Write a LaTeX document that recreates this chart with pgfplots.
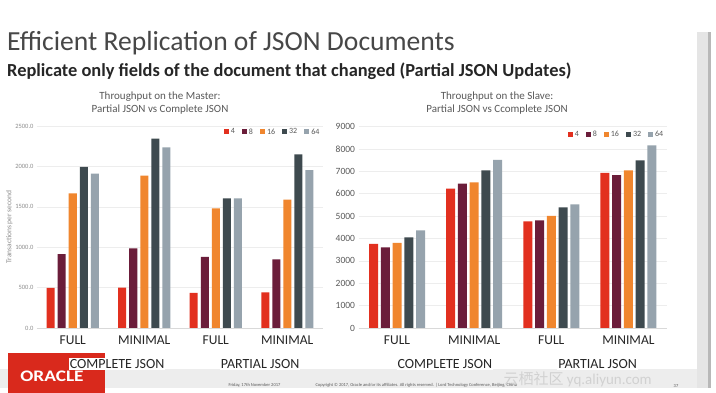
\documentclass[border=0pt]{standalone}
\usepackage{pgfplots}
\pgfplotsset{compat=1.18}
\usepackage{fontspec}
\setmainfont{Carlito}
\newfontfamily\cjk{Noto Sans CJK SC}
\definecolor{cA}{HTML}{E2301F}
\definecolor{cB}{HTML}{6B1D3A}
\definecolor{cC}{HTML}{F0862E}
\definecolor{cD}{HTML}{3E4A4F}
\definecolor{cE}{HTML}{96A3AD}
\definecolor{txt}{HTML}{595959}
\definecolor{oracle}{HTML}{D9291C}
\tikzset{grp/.style={fill=white,inner sep=1pt,font=\fontsize{14}{14}\selectfont,text=black!85,yshift=-36pt}}
\begin{document}
\begin{tikzpicture}[x=1pt,y=1pt]
% canvas
\fill[white] (0pt,0pt) rectangle (716pt,393pt);
% footer band and right strip
\fill[black!7] (0pt,5pt) rectangle (697pt,24pt);
\fill[black!10] (697pt,5pt) rectangle (708pt,361pt);
\fill[black!28] (708pt,5pt) rectangle (711pt,361pt);
\fill[oracle] (8pt,0pt) rectangle (105pt,40pt);
\node[white,font=\fontsize{14}{14}\selectfont\bfseries,scale=1.15,xscale=1.2] at (52pt,17pt) {ORACLE};
\node[txt,font=\fontsize{4.5}{5}\selectfont,anchor=west] at (225pt,8pt) {Friday, 17th November 2017};
\node[txt,font=\fontsize{4.5}{5}\selectfont,anchor=west] at (312pt,8pt) {Copyright \textcopyright{} 2017, Oracle and/or its affiliates. All rights reserved. \textbar{} Lord Technology Conference, Beijing, China};
\node[txt,font=\fontsize{4.5}{5}\selectfont] at (676pt,7pt) {37};
% titles
\node[anchor=base west,text=black!72,font=\fontsize{27.6}{28}\selectfont,inner sep=0] at (7pt,342pt) {Efficient Replication of JSON Documents};
\node[anchor=base west,text=black!85,font=\fontsize{18.4}{18.4}\selectfont\bfseries,inner sep=0] at (7pt,316pt) {Replicate only fields of the document that changed (Partial JSON Updates)};
\node[txt,font=\fontsize{11}{13}\selectfont,align=center] at (160pt,290pt) {Throughput on the Master:\\Partial JSON vs Complete JSON};
\node[txt,font=\fontsize{11}{13}\selectfont,align=center] at (497pt,290pt) {Throughput on the Slave:\\Partial JSON vs Ccomplete JSON};

\pgfplotsset{
  common/.style={
    scale only axis, clip=false,
    xmin=-0.5, xmax=3.5, ymin=0,
    /pgf/number format/assume math mode=true,
    xtick={0,1,2,3}, xticklabels={FULL,MINIMAL,FULL,MINIMAL},
    x tick label style={font=\fontsize{13.5}{13.5}\selectfont, text=black!85, yshift=-4pt},
    major tick length=0pt,
    axis x line*=bottom, x axis line style={black!15},
    axis y line*=left, y axis line style={draw=none},
    ymajorgrids, grid style={black!7},
    y tick label style={text=txt},
    legend columns=5,
    legend style={draw=none, fill=none, font=\fontsize{8}{8}\selectfont, text=txt, inner sep=0pt,
      /tikz/every even column/.append style={column sep=5pt}},
    legend cell align=left,
  },
  sq/.style={legend image code/.code={\fill[##1,draw=none] (0pt,-2.4pt) rectangle (5pt,2.6pt);}},
}

\begin{axis}[common, ybar=3pt, bar width=8pt, sq, at={(37pt,65pt)}, anchor=south west, width=286pt, height=202pt,
  ymax=2500, ytick={0,500,1000,1500,2000,2500},
  yticklabel={\pgfmathprintnumber[fixed,fixed zerofill,precision=1,1000 sep={},assume math mode=true]{\tick}},
  y tick label style={font=\fontsize{6.5}{6.5}\selectfont, text=black!45},
  ylabel={Transactions per second}, ylabel style={font=\fontsize{7.5}{7.5}\selectfont, text=black!45, yshift=-4pt},
  legend style={at={(rel axis cs:0.995,0.97)}, anchor=east},
]
\addplot[fill=cA, draw=none] coordinates {(0,495) (1,500) (2,435) (3,440)};
\addplot[fill=cB, draw=none] coordinates {(0,915) (1,985) (2,880) (3,850)};
\addplot[fill=cC, draw=none] coordinates {(0,1665) (1,1885) (2,1480) (3,1590)};
\addplot[fill=cD, draw=none] coordinates {(0,1995) (1,2345) (2,1605) (3,2150)};
\addplot[fill=cE, draw=none] coordinates {(0,1910) (1,2235) (2,1605) (3,1955)};
\legend{4,8,16,32,64}
\node[grp] at (axis cs:0.62,0) {COMPLETE JSON};
\node[grp] at (axis cs:2.62,0) {PARTIAL JSON};
\end{axis}

\begin{axis}[common, ybar=2.75pt, bar width=9pt, sq, at={(358.5pt,65pt)}, anchor=south west, width=308.5pt, height=201.6pt,
  ymax=9000, ytick={0,1000,...,9000},
  y tick label style={font=\fontsize{9.5}{9.5}\selectfont, /pgf/number format/1000 sep={}},
  legend style={at={(rel axis cs:0.995,0.96)}, anchor=east},
]
\addplot[fill=cA, draw=none] coordinates {(0,3750) (1,6220) (2,4760) (3,6930)};
\addplot[fill=cB, draw=none] coordinates {(0,3600) (1,6440) (2,4805) (3,6830)};
\addplot[fill=cC, draw=none] coordinates {(0,3795) (1,6500) (2,5000) (3,7035)};
\addplot[fill=cD, draw=none] coordinates {(0,4045) (1,7035) (2,5385) (3,7480)};
\addplot[fill=cE, draw=none] coordinates {(0,4355) (1,7510) (2,5520) (3,8150)};
\legend{4,8,16,32,64}
\node[grp] at (axis cs:0.62,0) {COMPLETE JSON};
\node[grp] at (axis cs:2.6,0) {PARTIAL JSON};
\end{axis}
\node[black!25,opacity=0.6,font=\fontsize{15}{15}\selectfont,anchor=west] at (500pt,14pt) {{\cjk 云栖社区}\ yq.aliyun.com};
\end{tikzpicture}
\end{document}
